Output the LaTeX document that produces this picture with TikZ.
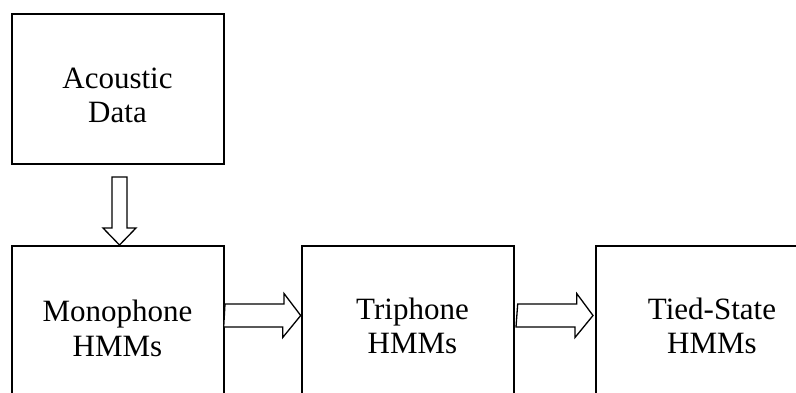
\documentclass[tikz,border=0pt]{standalone}
\usepackage{fontspec}
\setmainfont{Liberation Serif}
\begin{document}
\begin{tikzpicture}[x=1pt,y=-1pt,
  box/.style={draw, line width=2pt, rectangle, inner sep=0pt, anchor=north west},
  lbl/.style={align=center, font=\fontsize{31}{34.5}\selectfont, inner sep=0pt, anchor=base},
  blockarrow/.style={draw, line width=1.3pt, line join=miter, fill=white}]
\useasboundingbox (0,0) rectangle (796,392);
\clip (0,0) rectangle (796,392);
\node[box, minimum width=212pt, minimum height=150pt] (acoustic) at (11,13) {};
\node[box, minimum width=212pt, minimum height=200pt] (mono) at (11,245) {};
\node[box, minimum width=212pt, minimum height=200pt] (tri) at (300.7,245) {};
\node[box, minimum width=260pt, minimum height=200pt] (tied) at (595,245) {};
\coordinate (mid) at (0,315.5);
% down arrow: Acoustic Data -> Monophone HMMs
\draw[blockarrow] ([xshift=1.5pt]mono.north) -- ++(-16.5,-17) -- ++(9,0) -- ++(0,-51)
  -- ++(15,0) -- ++(0,51) -- ++(9,0) -- cycle;
% Monophone -> Triphone
\draw[blockarrow] (mono.east |- mid) ++(0,-11.5) -- ++(59,0) -- ++(0,-10.5)
  -- (tri.west |- mid) -- ++(-18,22) -- ++(0,-10.5) -- ++(-59,0) -- cycle;
% Triphone -> Tied-State
\draw[blockarrow] ([xshift=3pt]tri.east |- mid) ++(0,-11.5) -- ++(59,0) -- ++(0,-10.5)
  -- ([xshift=-2pt]tied.west |- mid) -- ++(-18,22) -- ++(0,-10.5) -- ++(-59,0) -- cycle;
\node[lbl] (acoustic-text) at (117.5,122.7) {Acoustic\\Data};
\node[lbl] (mono-text) at (117.5,356) {Monophone\\HMMs};
\node[lbl] (tri-text) at (412.5,353.5) {Triphone\\HMMs};
\node[lbl] (tied-text) at (712,353.5) {Tied-State\\HMMs};
\end{tikzpicture}
\end{document}
